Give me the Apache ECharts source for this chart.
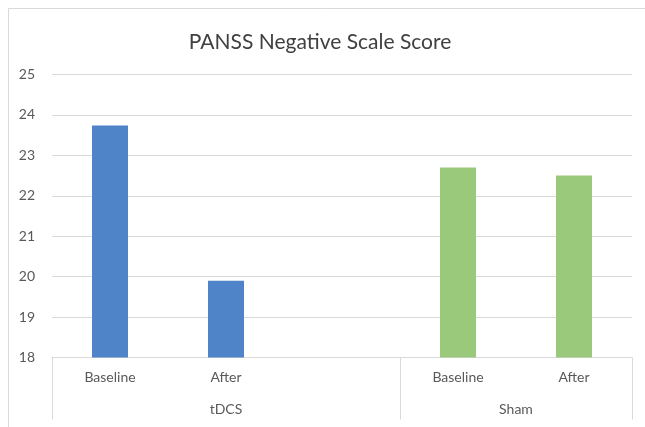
<!DOCTYPE html>
<html>
<head>
<meta charset="utf-8">
<script src="https://cdn.jsdelivr.net/npm/echarts@6/dist/echarts.min.js"></script>
<style>
html,body{margin:0;padding:0;background:#fff;}
#c{width:645px;height:427px;}
</style>
</head>
<body>
<div id="c"></div>
<script>
var titleText = 'PANSS Negative Scale Score';
var categories = ['Baseline', 'After', '', 'Baseline', 'After'];
var groupNames = ['tDCS', 'Sham'];
var groupSizes = [3, 2];
var tdcsValues = [23.74, 19.9, '-', '-', '-'];
var shamValues = ['-', '-', '-', 22.7, 22.5];
var yTicks = [18, 19, 20, 21, 22, 23, 24, 25];

var boundaries = [0];
var groupCenters = [];
var acc = 0;
groupSizes.forEach(function (s) { groupCenters.push(acc + s / 2); acc += s; boundaries.push(acc); });

var font = 'Lato, "Open Sans", sans-serif';
var chart = echarts.init(document.getElementById('c'));
chart.setOption({
  animation: false,
  backgroundColor: '#fff',
  title: {
    text: titleText, left: 315, top: 27, textAlign: 'center',
    textStyle: { fontFamily: font, fontSize: 21, fontWeight: 'normal', color: '#404040' }
  },
  graphic: [{
    type: 'rect', shape: { x: 8.5, y: 8.5, width: 640, height: 430 },
    style: { fill: 'none', stroke: '#d9d9d9', lineWidth: 1 }, silent: true
  }],
  grid: { left: 52, right: 13, top: 74.5, bottom: 69.5, containLabel: false },
  xAxis: [{
    type: 'category', data: categories, position: 'bottom',
    axisLine: { lineStyle: { color: '#d9d9d9', width: 1 } },
    axisTick: { show: false },
    axisLabel: { color: '#595959', fontFamily: font, fontSize: 14, margin: 13, interval: 0 },
    splitLine: { show: false }
  }, {
    type: 'value', min: 0, max: acc, position: 'bottom',
    axisLine: { show: false },
    axisTick: { show: true, customValues: boundaries, length: 62, lineStyle: { color: '#d9d9d9' } },
    axisLabel: {
      customValues: groupCenters, color: '#595959', fontFamily: font, fontSize: 14, margin: 45,
      formatter: function (v) { var i = groupCenters.indexOf(v); return i >= 0 ? groupNames[i] : ''; }
    },
    splitLine: { show: false }
  }],
  yAxis: {
    type: 'value', min: yTicks[0], max: yTicks[yTicks.length - 1], interval: 1,
    axisLine: { show: false }, axisTick: { show: false },
    axisLabel: { color: '#595959', fontFamily: font, fontSize: 14, margin: 17 },
    splitLine: { lineStyle: { color: '#d9d9d9', width: 1 } }
  },
  series: [{
    type: 'bar', name: 'tDCS', data: tdcsValues, stack: 's', barWidth: 36,
    itemStyle: { color: '#4f84c8' }
  }, {
    type: 'bar', name: 'Sham', data: shamValues, stack: 's', barWidth: 36,
    itemStyle: { color: '#9bc97b' }
  }]
});
</script>
</body>
</html>
